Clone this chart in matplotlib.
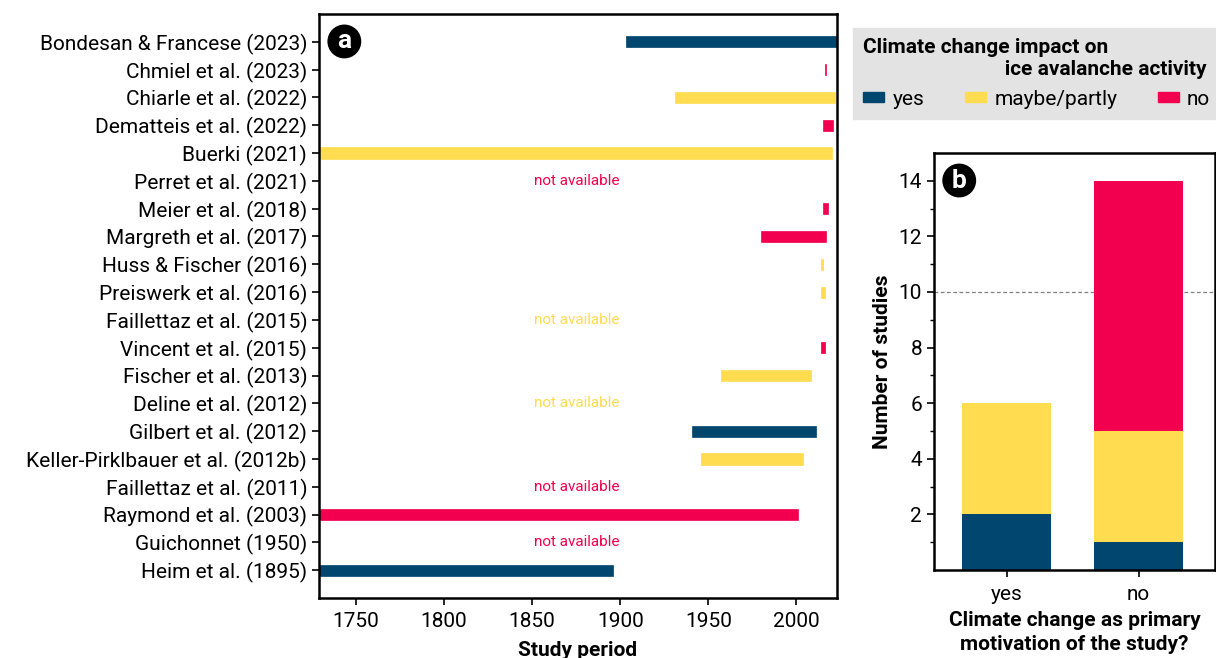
import matplotlib.pyplot as plt
import matplotlib.ticker as tick
from matplotlib.patches import Patch

plt.rcParams['font.family'] = ['Roboto', 'DejaVu Sans']

# colours for the three answer classes
c_yes = "#00466f"
c_maybe = "#ffdc50"
c_no = "#f2004f"
class_colors = {"yes": c_yes, "maybe": c_maybe, "no": c_no}

# panel a: studies (top to bottom), impact class and study period
studies = ["Bondesan & Francese (2023)", "Chmiel et al. (2023)", "Chiarle et al. (2022)",
           "Dematteis et al. (2022)", "Buerki (2021)", "Perret et al. (2021)",
           "Meier et al. (2018)", "Margreth et al. (2017)", "Huss & Fischer (2016)",
           "Preiswerk et al. (2016)", "Faillettaz et al. (2015)", "Vincent et al. (2015)",
           "Fischer et al. (2013)", "Deline et al. (2012)", "Gilbert et al. (2012)",
           "Keller-Pirklbauer et al. (2012b)", "Faillettaz et al. (2011)",
           "Raymond et al. (2003)", "Guichonnet (1950)", "Heim et al. (1895)"]
impact = ["yes", "no", "maybe", "no", "maybe", "no", "no", "no", "maybe", "maybe",
          "maybe", "no", "maybe", "maybe", "yes", "maybe", "no", "no", "no", "yes"]
period_start = [1903, 2016, 1931, 2015, 1700, None, 2015, 1980, 2014, 2014,
                None, 2014, 1957, None, 1941, 1946, None, 1700, None, 1700]
period_end = [2023, 2017, 2022, 2021, 2020, None, 2018, 2017, 2015, 2016,
              None, 2016, 2008, None, 2011, 2004, None, 2001, None, 1896]

# panel b: counts per primary motivation, stacked by impact class
motivation = ["yes", "no"]
count_yes = [2, 1]
count_maybe = [4, 4]
count_no = [0, 9]

fs = 15
fig = plt.figure(figsize=(12.16, 6.58), dpi=100)

# ---- panel a
ax = fig.add_axes([0.2623, 0.0912, 0.426, 0.8875])
n = len(studies)
ypos = [n - 1 - i for i in range(n)]
for i in range(n):
    col = class_colors[impact[i]]
    if period_start[i] is None:
        ax.text(1851, ypos[i], "not available", color=col, fontsize=11,
                ha='left', va='center')
    else:
        ax.barh(ypos[i], period_end[i] - period_start[i], left=period_start[i],
                height=0.4, color=col, edgecolor=col, linewidth=0.5)
ax.set_xlim(1729, 2023)
ax.set_ylim(-1, n)
ax.set_yticks(ypos)
ax.set_yticklabels(studies, fontsize=fs)
ax.xaxis.set_major_locator(tick.FixedLocator([1750, 1800, 1850, 1900, 1950, 2000]))
ax.tick_params(axis='x', labelsize=fs, length=5, width=1.2, pad=5)
ax.tick_params(axis='y', length=5, width=1.2)
ax.set_xlabel("Study period", fontsize=fs, fontweight='bold', labelpad=7)
for s in ax.spines.values():
    s.set_linewidth(1.8)
ax.text(0.049, 0.953, "a", transform=ax.transAxes, fontsize=19, fontweight='bold',
        color='white', ha='center', va='center',
        bbox=dict(boxstyle='circle,pad=0.16', fc='black', ec='black'))

# ---- panel b
bx = fig.add_axes([0.768, 0.1337, 0.2315, 0.6338])
xs = [0, 1]
bottoms_maybe = [count_yes[k] for k in range(2)]
bottoms_no = [count_yes[k] + count_maybe[k] for k in range(2)]
bx.axhline(10, color='gray', linestyle=(0, (3, 2)), linewidth=0.9, zorder=0)
bx.bar(xs, count_yes, width=0.67, color=c_yes, linewidth=0)
bx.bar(xs, count_maybe, width=0.67, bottom=bottoms_maybe, color=c_maybe, linewidth=0)
bx.bar(xs, count_no, width=0.67, bottom=bottoms_no, color=c_no, linewidth=0)
bx.set_xlim(-0.55, 1.58)
bx.set_ylim(0, 15)
bx.set_xticks(xs)
bx.set_xticklabels(motivation, fontsize=fs)
bx.yaxis.set_major_locator(tick.FixedLocator([2, 4, 6, 8, 10, 12, 14]))
bx.yaxis.set_minor_locator(tick.FixedLocator([1, 3, 5, 7, 9, 11, 13]))
bx.tick_params(axis='both', labelsize=fs, length=5, width=1.2)
bx.tick_params(axis='x', pad=6)
bx.tick_params(axis='y', which='minor', length=3, width=1)
bx.set_ylabel("Number of studies", fontsize=fs, fontweight='bold', labelpad=5)
bx.set_xlabel("Climate change as primary\nmotivation of the study?", fontsize=fs,
              fontweight='bold', labelpad=5, linespacing=1.35)
for s in bx.spines.values():
    s.set_linewidth(1.8)
bx.text(0.09, 0.934, "b", transform=bx.transAxes, fontsize=19, fontweight='bold',
        color='white', ha='center', va='center',
        bbox=dict(boxstyle='circle,pad=0.16', fc='black', ec='black'))

# ---- legend
handles = [Patch(color=c_yes, label="yes"), Patch(color=c_maybe, label="maybe/partly"),
           Patch(color=c_no, label="no")]
leg = fig.legend(handles=handles, ncol=3, loc='upper left', bbox_to_anchor=(0.7015, 0.9574),
                 borderaxespad=0,
                 title="Climate change impact on\n                           ice avalanche activity",
                 fontsize=fs, title_fontproperties={'weight': 'bold', 'size': fs},
                 frameon=True, fancybox=False, facecolor='#e3e3e3', edgecolor='#e3e3e3',
                 framealpha=1, handlelength=1.0, handleheight=0.35, columnspacing=1.95,
                 handletextpad=0.4, borderpad=0.5)
leg.get_title().set_multialignment('left')
leg._legend_box.align = 'left'

fig.savefig("out.png", dpi=100)
